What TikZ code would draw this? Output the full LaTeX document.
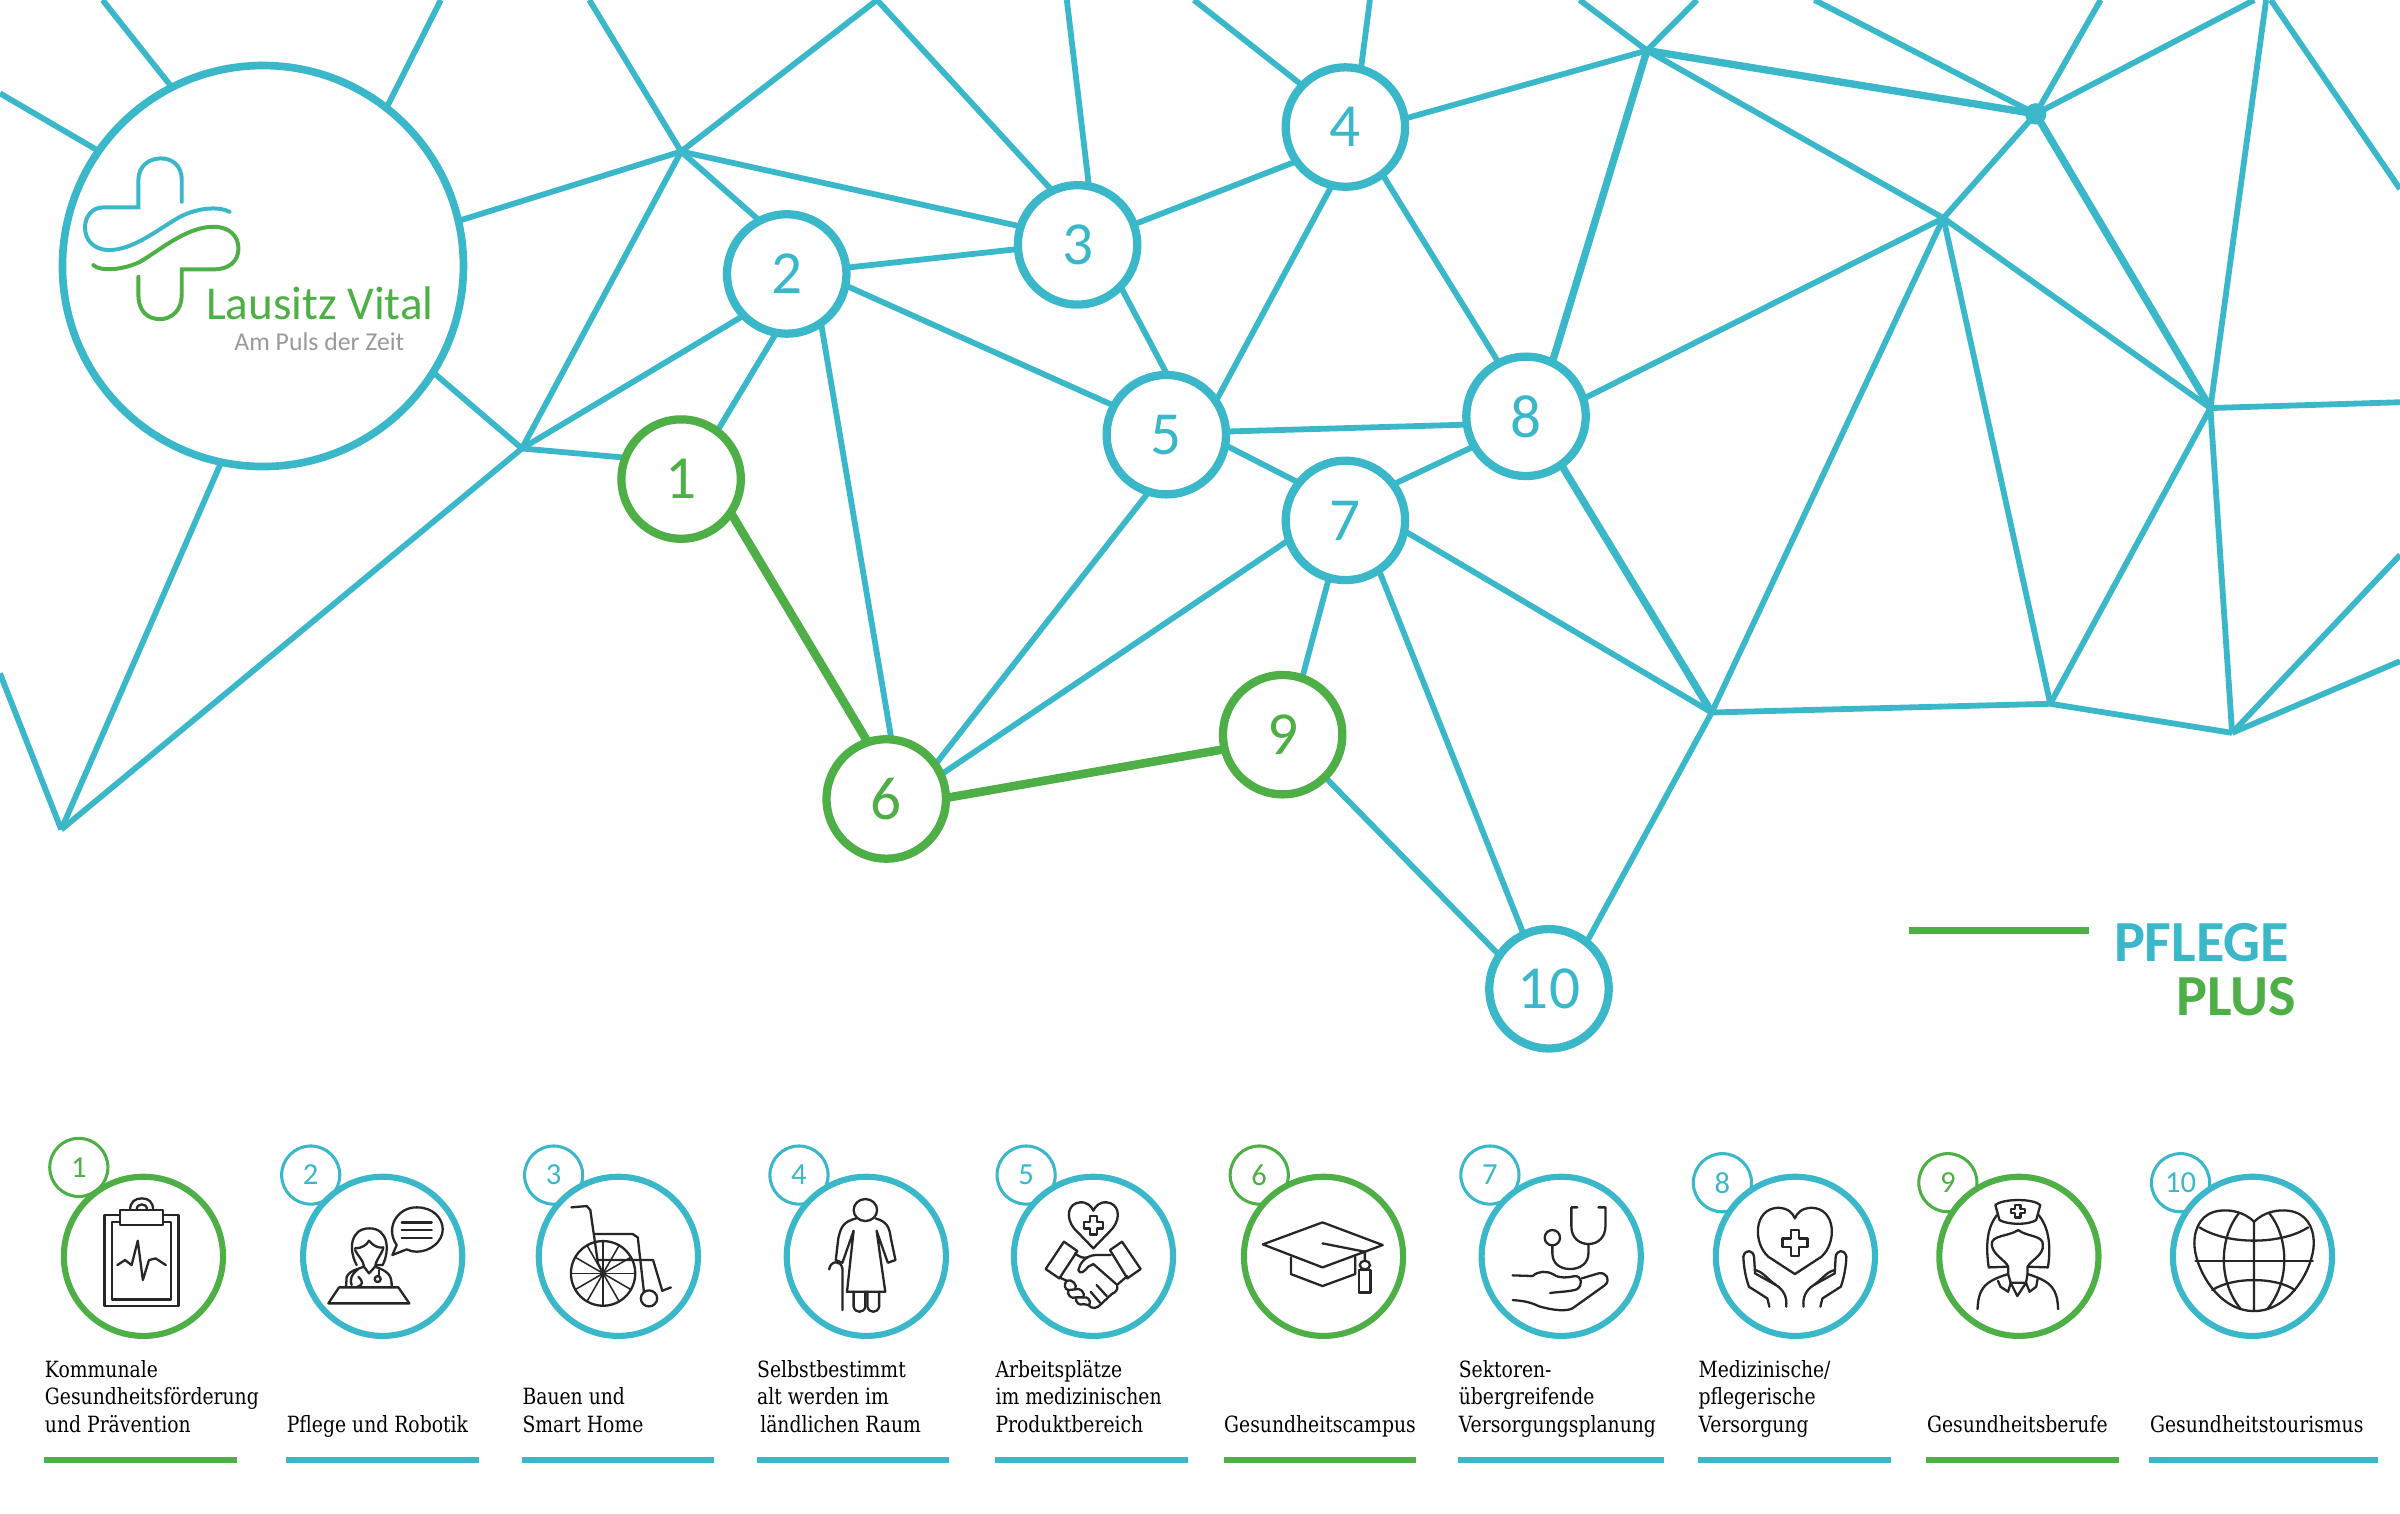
\documentclass[tikz,border=0pt]{standalone}
\usepackage{fontspec}
\usetikzlibrary{backgrounds}
\setmainfont{Carlito}
\newfontfamily\labelfont[FakeStretch=.84]{DejaVu Serif}
\definecolor{pulseteal}{HTML}{3AB8CA}
\definecolor{pulsegreen}{HTML}{4DAF45}
\tikzset{
hub/.style = {circle, draw = #1, text = #1, fill = white, line width = 2.7pt, minimum size = 39pt, inner sep = 0pt, outer sep = 0pt, font = \fontsize{20}{24}\selectfont},
hub/.default = pulseteal,
logoring/.style = {circle, draw = pulseteal, fill = white, line width = 2.5pt, minimum size = 131pt, inner sep = 0pt, outer sep = 0pt},
bigring/.style = {circle, draw = #1, fill = white, line width = 2pt, minimum size = 52pt, inner sep = 0pt},
smallring/.style = {circle, draw = #1, text = #1, line width = 1pt, minimum size = 19pt, inner sep = 0pt, font = \fontsize{10}{12}\selectfont},
link/.style = {draw = pulseteal, line width = 1.9pt},
heavylink/.style = {draw = pulseteal, line width = 2.4pt},
pluslink/.style = {draw = pulsegreen, line width = 2.8pt},
labeltext/.style = {font = \labelfont\fontsize{7.3}{8.93}\selectfont, text = black, align = left, inner sep = 0pt, anchor = south west},
icon/.style = {draw = black!85, line width = .75pt, line join = round, line cap = round},
zoomgrid/.style n args = {2}{shift = {(#1,#2)}, x = .10893pt, y = -.10893pt},
wideicon/.style = {shift = {(#1,725.2)}, x = .16667pt, y = -.10893pt}
}
\begin{document}
\begin{tikzpicture}[x = .5pt, y = -.5pt]
\path [use as bounding box] (0,0) rectangle (1568,988.5);
\node (logo) [logoring] at (171.8,173.8) {};
\node (n1) [hub = pulsegreen] at (445,313) {1};
\node (n2) [hub] at (514,179) {2};
\node (n3) [hub] at (704,160) {3};
\node (n4) [hub] at (879,83) {4};
\node (n5) [hub] at (762,284) {5};
\node (n6) [hub = pulsegreen] at (579,522) {6};
\node (n7) [hub] at (879,340) {7};
\node (n8) [hub] at (997,272) {8};
\node (n9) [hub = pulsegreen] at (838,480) {9};
\node (n10) [hub] at (1012,646) {10};
\foreach \j/\x/\y in {ja/445/99, jb/341/293, jc/40/542, jd/573/0, je/1076/33, jf/1330/74.4, jg/1269.7/142.5, jh/1444.1/266.6, ji/1118.3/465.5, jj/1339.5/459.8, jk/1458.3/478.8, jl/1480.5/0, t1/67/0, t2/288/0, t3/0/61, t4/0/440, t5/385/0, t6/697/0, t7/780/0, t8/895/0, t9/1032/0, t10/1108.7/0, t11/1185.4/0, t12/1372.4/0, t13/1472.8/0, t14/1483.6/0, t15/1568/123.5, t16/1568/262.8, t17/1568/432, t18/1568/362.6}
  \coordinate (\j) at (\x,\y);
\begin{pgfonlayer}{background}
\foreach \a/\b in {logo.117/t1, logo.52/t2, logo.145/t3, logo.13/ja, logo.-32/jb, logo.258/jc, jc/t4, jb/jc, ja/jb, ja/jd, ja/t5, ja/n2.117, ja/n3.162, jb/n2.224, jb/n1.159, jd/n3.115, t6/n3.79, t7/n4.136, t8/n4.75, n2.6/n3.184, n2.-11/n5.151, n2.260/n1.53, n2.-55/n6.85, n3.20/n4.215, n3.-44/n5.89, n4.257/n5.34, n4.-52/n8.117, n4.8/je, n5.3/n8.188, n5.-10/n7.141, n5.253/n6.35, n7.199/n6.24, n7.37/n8.210, n7.-10/ji, n7.254/n9.71, n7.-56/n10.115, n8.17/jg, n9.-45/n10.146, n10.51/ji, je/jg, je/t9, je/t10, jf/t11, jf/t12, jf/t13, jf/jg, jg/jh, jg/jj, jg/ji, ji/jj, jj/jk, jj/jh, jk/jh, jl/jh, t14/t15, jh/t16, jk/t17, jk/t18}
  \path [link] (\a) -- (\b);
\foreach \a/\b in {n8.64/je, n8.-54/ji, je/jf, jf/jh}
  \path [heavylink] (\a) -- (\b);
\path [pluslink] (n1.-34) -- (n6.108);
\path [pluslink] (n6.1) -- (n9.194);
\end{pgfonlayer}
\fill [pulseteal] (jf) circle [radius = 7];
\node (lausitz) [text = pulsegreen, anchor = base west, inner sep = 0pt, font = \fontsize{15.4}{18}\selectfont] at (134.2,208.5) {Lausitz Vital};
\node (puls) [text = black!40, anchor = base west, inner sep = 0pt, font = \fontsize{8.4}{10}\selectfont] at (152.8,228.7) {Am Puls der Zeit};
\begin{scope}[zoomgrid = {0}{0}, line width = 1.3pt, line cap = round]
\draw [pulseteal] (545,605) -- (545,540) .. controls (545,495) and (515,475) .. (482,475) .. controls (445,475) and (415,500) .. (415,540) -- (415,622) -- (310,622) .. controls (275,622) and (255,650) .. (255,682) .. controls (255,720) and (280,748) .. (325,750) .. controls (400,750) and (470,690) .. (540,650) .. controls (600,620) and (660,620) .. (688,635);
\draw [pulsegreen] (280,795) .. controls (300,815) and (370,810) .. (420,785) .. controls (480,750) and (560,680) .. (640,680) .. controls (690,680) and (715,710) .. (715,745) .. controls (715,785) and (685,808) .. (640,808) -- (545,808) -- (545,885) .. controls (545,930) and (515,957) .. (480,957) .. controls (440,957) and (415,930) .. (415,885) -- (415,830);
\end{scope}
\node (pflege) [text = pulseteal, anchor = base east, inner sep = 0pt, font = \bfseries\fontsize{19}{22}\selectfont] at (1496,627.9) {PFLEGE};
\node (plus) [text = pulsegreen, anchor = base east, inner sep = 0pt, font = \bfseries\fontsize{19}{22}\selectfont] at (1500.4,663.2) {PLUS};
\draw [pulsegreen, line width = 2.5pt] (1247.2,608) -- (1364.8,608);
\foreach \i/\bx/\sx/\sy/\col/\ba/\bb/\txt in {
1/93.7/51.5/762.7/pulsegreen/29/155/{Kommunale\\Gesundheitsförderung\\und Prävention},
2/250/203/767.7/pulseteal/187/313/{Pflege und Robotik},
3/404/361.7/767.7/pulseteal/341/466.7/{Bauen und\\Smart Home},
4/566/522/767.7/pulseteal/494.3/620/{Selbstbestimmt\\alt werden im\\\hspace{1pt}ländlichen Raum},
5/714.4/670.4/767.7/pulseteal/650/776/{Arbeitsplätze\\im medizinischen\\Produktbereich},
6/864.7/822.7/767.7/pulsegreen/799.4/925/{Gesundheitscampus},
7/1020/973.4/767.7/pulseteal/952.7/1087/{Sektoren-\\übergreifende\\Versorgungsplanung},
8/1173/1125.3/772.7/pulseteal/1109.3/1235.3/{Medizinische/\\pflegerische\\Versorgung},
9/1319/1272.6/772.7/pulsegreen/1258.6/1384.6/{Gesundheitsberufe},
10/1471.6/1424.6/772.7/pulseteal/1404.3/1553.6/{Gesundheitstourismus}}{
  \node (num\i) [smallring = \col] at (\sx,\sy) {\i};
  \node (ring\i) [bigring = \col] at (\bx,820.8) {};
  \node (text\i) [labeltext] at (\ba,941.4) {\txt\strut};
  \draw [\col, line width = 2.1pt] (\ba,954) -- (\bb,954);
}
% clipboard
\begin{scope}[wideicon = 0]
\draw [icon] (235,315) -- (205,315) -- (205,587) -- (350,587) -- (350,315) -- (320,315);
\draw [icon] (235,335) -- (220,335) -- (220,568) -- (335,568) -- (335,335) -- (320,335);
\draw [icon] (235,300) rectangle (320,345);
\draw [icon] (255,300) .. controls (255,275) and (265,265) .. (278,265) .. controls (291,265) and (300,275) .. (300,300);
\draw [icon] (268,300) .. controls (268,288) and (272,283) .. (278,283) .. controls (284,283) and (288,288) .. (288,300);
\draw [icon] (230,465) -- (245,450) -- (258,465) -- (270,392) -- (280,510) -- (292,450) -- (305,445) -- (325,465);
\end{scope}
% doctor
\begin{scope}[zoomgrid = {196}{764.4}]
\draw [icon] (290,225) .. controls (255,175) and (290,112) .. (350,112) .. controls (400,112) and (428,145) .. (428,178) .. controls (428,215) and (390,245) .. (350,245) .. controls (340,245) and (330,243) .. (320,238) -- (277,255) -- cycle;
\foreach \y in {157,180,203}
  \draw [icon] (305,\y) -- (395,\y);
\draw [icon] (170,285) .. controls (145,240) and (150,175) .. (208,175) .. controls (265,175) and (270,240) .. (248,285) -- (228,285);
\draw [icon] (165,235) .. controls (185,235) and (200,225) .. (207,212) .. controls (220,228) and (235,235) .. (250,232);
\draw [icon] (165,240) .. controls (175,260) and (190,270) .. (192,290) -- (207,310) -- (225,290) .. controls (228,270) and (240,260) .. (250,235);
\draw [icon] (138,350) -- (140,320) .. controls (150,300) and (175,297) .. (192,290);
\draw [icon] (225,290) .. controls (270,305) and (275,320) .. (275,350);
\draw [icon] (175,297) .. controls (150,315) and (150,335) .. (155,345);
\draw [icon] (175,320) .. controls (190,335) and (190,345) .. (172,350);
\draw [icon] (236,300) -- (236,318);
\draw [icon] (233,327) circle [radius = 9];
\draw [icon] (85,400) -- (117,352) -- (295,352) -- (328,400) -- cycle;
\end{scope}
% wheelchair
\begin{scope}[wideicon = 0]
\draw [icon] (1182,490) circle [x radius = 63, y radius = 97];
\foreach \ang in {0,30,...,150}
  \draw [icon, line width = .5pt] ({1182+63*cos(\ang)},{490+97*sin(\ang)}) -- ({1182-63*cos(\ang)},{490-97*sin(\ang)});
\draw [icon] (1120,292) -- (1150,288) -- (1157,300) -- (1172,460) -- (1182,490);
\draw [icon] (1165,372) -- (1240,372) -- (1250,382) -- (1262,545);
\draw [icon] (1172,450) -- (1280,450) -- (1298,542) -- (1315,532);
\draw [icon] (1272,565) circle [x radius = 16, y radius = 24];
\end{scope}
% elderly woman
\begin{scope}[wideicon = 522.7]
\draw [icon] (128,300) circle [x radius = 23, y radius = 33];
\draw [icon] (110,325) .. controls (85,335) and (80,350) .. (75,385) -- (70,450) -- (83,458) -- (105,362) -- (92,545) -- (167,545) -- (150,362) -- (172,458) -- (187,450) -- (178,385) .. controls (175,350) and (170,335) .. (148,325);
\draw [icon] (105,545) -- (105,590) .. controls (108,610) and (125,610) .. (128,590) -- (128,545);
\draw [icon] (132,545) -- (132,590) .. controls (135,610) and (152,610) .. (155,590) -- (155,545);
\draw [icon] (83,600) -- (83,475) .. controls (80,450) and (60,450) .. (57,478);
\end{scope}
% handshake
\begin{scope}[zoomgrid = {653.3}{764.4}]
\draw [icon] (280,235) -- (222,175) .. controls (195,140) and (205,100) .. (240,97) .. controls (262,95) and (275,110) .. (280,122) .. controls (285,110) and (298,95) .. (320,97) .. controls (355,100) and (365,140) .. (338,175) -- cycle;
\draw [icon] (270,137) -- (290,137) -- (290,155) -- (308,155) -- (308,175) -- (290,175) -- (290,193) -- (270,193) -- (270,175) -- (252,175) -- (252,155) -- (270,155) -- cycle;
\draw [icon] (192,215) -- (137,297) -- (178,325) -- (232,243) -- cycle;
\draw [icon] (366,215) -- (422,297) -- (382,325) -- (330,240) -- cycle;
\draw [icon] (225,250) .. controls (240,262) and (250,265) .. (262,262);
\draw [icon] (332,255) -- (285,255) .. controls (255,258) and (240,280) .. (235,300) .. controls (240,315) and (252,305) .. (265,290) -- (280,282) -- (352,345) .. controls (355,360) and (345,368) .. (335,372) -- (300,405) .. controls (292,415) and (275,418) .. (265,405);
\draw [icon] (382,318) -- (354,342);
\draw [icon] (178,322) -- (200,332) .. controls (190,345) and (195,358) .. (205,360) .. controls (200,375) and (215,388) .. (228,382) .. controls (225,398) and (240,408) .. (250,402) -- (265,405);
\draw [icon] (200,332) .. controls (215,325) and (235,345) .. (225,358) -- (205,360);
\draw [icon] (225,358) .. controls (240,350) and (258,370) .. (250,382) -- (228,382);
\draw [icon] (250,382) .. controls (262,378) and (275,392) .. (268,404);
\draw [icon] (290,345) -- (320,378);
\draw [icon] (272,365) -- (300,398);
\end{scope}
% graduation cap
\begin{scope}[wideicon = 522.7]
\draw [icon] (907,403) -- (1024,337) -- (1142,405) -- (1024,472) -- cycle;
\draw [icon] (962,442) -- (962,492) -- (1024,528) -- (1088,492) -- (1088,440);
\draw [icon] (1024,400) -- (1107,425) -- (1107,452);
\draw [icon] (1107,465) circle [x radius = 10, y radius = 13];
\draw [icon] (1096,480) rectangle (1118,547);
\end{scope}
% stethoscope on a hand
\begin{scope}[zoomgrid = {960.4}{764.4}]
\draw [icon] (322,112) -- (304,112) -- (304,170) .. controls (304,205) and (330,222) .. (355,222) .. controls (385,222) and (406,200) .. (406,170) -- (406,112) -- (385,112);
\draw [icon] (355,222) -- (355,250) .. controls (355,280) and (330,297) .. (300,297) .. controls (270,297) and (247,280) .. (247,250) -- (247,226);
\draw [icon] (247,203) circle [radius = 23];
\draw [icon] (128,316) -- (188,318) .. controls (205,302) and (230,302) .. (250,313) .. controls (270,327) and (295,322) .. (315,318) .. controls (335,318) and (340,345) .. (320,358) .. controls (300,365) and (265,365) .. (240,369);
\draw [icon] (335,325) -- (385,310) .. controls (410,305) and (422,330) .. (405,345) -- (310,413) .. controls (295,425) and (250,422) .. (205,408) .. controls (175,393) and (150,392) .. (128,390);
\end{scope}
% heart in hands
\begin{scope}[wideicon = 1045.3]
\draw [icon] (382,492) -- (330,440) .. controls (300,400) and (300,295) .. (350,293) .. controls (370,295) and (378,310) .. (382,325) .. controls (386,310) and (394,295) .. (414,293) .. controls (464,295) and (464,400) .. (434,440) -- cycle;
\draw [icon] (374,360) -- (390,360) -- (390,385) -- (407,385) -- (407,410) -- (390,410) -- (390,437) -- (374,437) -- (374,410) -- (358,410) -- (358,385) -- (374,385) -- cycle;
\draw [icon] (332,590) -- (328,565) -- (292,530) .. controls (285,500) and (282,470) .. (281,440) .. controls (285,415) and (300,420) .. (302,440) -- (304,490) -- (345,525) .. controls (360,540) and (367,560) .. (365,590);
\draw [icon] (304,480) .. controls (320,485) and (330,510) .. (345,525);
\draw [icon] (432,590) -- (436,565) -- (472,530) .. controls (479,500) and (482,470) .. (483,440) .. controls (479,415) and (464,420) .. (462,440) -- (460,490) -- (419,525) .. controls (404,540) and (397,560) .. (399,590);
\draw [icon] (460,480) .. controls (444,485) and (434,510) .. (419,525);
\end{scope}
% nurse
\begin{scope}[wideicon = 1045.3]
\draw [icon] (775,285) .. controls (790,265) and (850,265) .. (863,285) -- (855,330) .. controls (840,345) and (800,345) .. (783,330) -- cycle;
\draw [icon] (814,285) -- (824,285) -- (824,297) -- (833,297) -- (833,308) -- (824,308) -- (824,322) -- (814,322) -- (814,308) -- (805,308) -- (805,297) -- (814,297) -- cycle;
\draw [icon] (778,315) .. controls (760,350) and (755,400) .. (762,472) -- (798,470);
\draw [icon] (860,315) .. controls (878,350) and (885,400) .. (878,472) -- (840,470);
\draw [icon] (820,360) .. controls (800,380) and (765,375) .. (768,405) .. controls (770,435) and (795,450) .. (800,470) -- (800,492) -- (805,518) -- (835,518) -- (838,492) -- (838,470) .. controls (845,450) and (870,435) .. (868,405) .. controls (870,375) and (835,380) .. (820,360);
\draw [icon] (740,597) .. controls (742,540) and (750,515) .. (800,492);
\draw [icon] (898,597) .. controls (896,540) and (888,515) .. (838,492);
\draw [icon] (780,512) -- (785,530) -- (800,545) -- (805,518) -- (818,558) -- (835,518) -- (842,545) -- (855,530) -- (858,505);
\end{scope}
% globe heart
\begin{scope}[wideicon = 1045.3]
\draw [icon] (1282,335) .. controls (1262,305) and (1235,298) .. (1215,302) .. controls (1180,308) and (1165,350) .. (1165,400) .. controls (1165,470) and (1210,603) .. (1282,603) .. controls (1354,603) and (1399,470) .. (1399,400) .. controls (1399,350) and (1384,308) .. (1349,302) .. controls (1329,298) and (1302,305) .. (1282,335) -- (1282,603);
\draw [icon] (1252,310) .. controls (1215,380) and (1210,510) .. (1255,595);
\draw [icon] (1312,310) .. controls (1349,380) and (1354,510) .. (1309,595);
\draw [icon] (1175,352) .. controls (1230,405) and (1334,405) .. (1388,352);
\draw [icon] (1167,452) -- (1397,452);
\draw [icon] (1200,540) .. controls (1240,500) and (1324,500) .. (1362,540);
\end{scope}
\end{tikzpicture}
\end{document}
